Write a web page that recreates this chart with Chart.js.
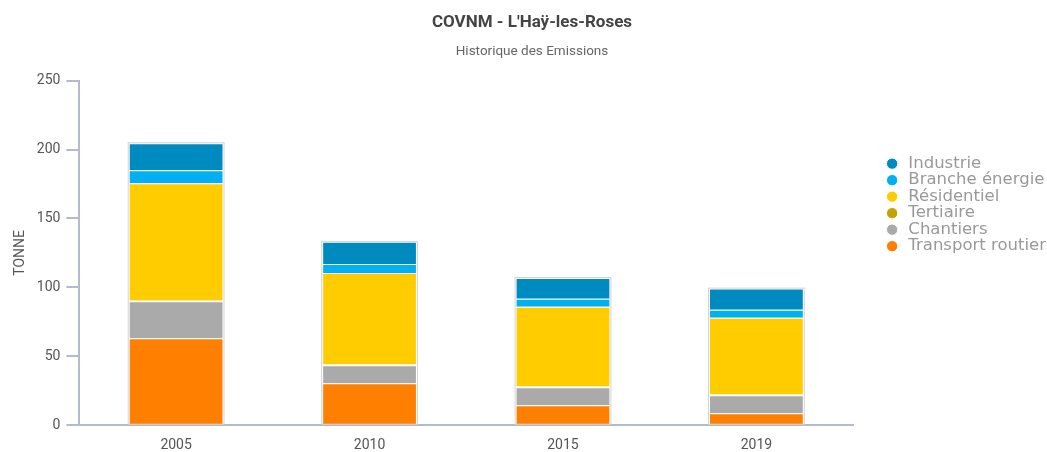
<!DOCTYPE html>
<html>
<head>
<meta charset="utf-8">
<script src="https://cdn.jsdelivr.net/npm/chart.js@4"></script>
<style>
  html, body { margin: 0; padding: 0; background: #fff; }
  #wrap { width: 1047px; height: 452px; }
</style>
</head>
<body>
<div id="wrap"><canvas id="emissionsChart"></canvas></div>
<script>
// Data
const years = ['2005', '2010', '2015', '2019'];
const transportRoutier = [63, 30.5, 14.5, 8.7];
const chantiers = [27, 13, 13, 13];
const tertiaire = [0.5, 0.5, 0.5, 0.5];
const residentiel = [85, 66.5, 58, 55.8];
const brancheEnergie = [9.5, 6.5, 5.8, 5.8];
const industrie = [19.5, 16, 15, 15.3];
const yTicks = [0, 50, 100, 150, 200, 250];

const axisColor = '#b4bacb';
const tickFont = "Roboto, sans-serif";

// light grey outline around each full stack
const stackOutline = {
  id: 'stackOutline',
  afterDatasetsDraw(chart) {
    const ctx = chart.ctx;
    const metas = chart.getSortedVisibleDatasetMetas();
    const count = chart.data.labels.length;
    ctx.save();
    ctx.strokeStyle = '#d4d4d4';
    ctx.lineWidth = 1;
    for (let i = 0; i < count; i++) {
      let top = Infinity, bottom = -Infinity, left, right;
      metas.forEach((m) => {
        const bar = m.data[i];
        if (!bar) return;
        const p = bar.getProps(['x', 'y', 'base', 'width'], true);
        top = Math.min(top, p.y, p.base);
        bottom = Math.max(bottom, p.y, p.base);
        left = p.x - p.width / 2;
        right = p.x + p.width / 2;
      });
      ctx.strokeRect(left - 0.5, top - 0.5, right - left + 1, bottom - top + 0.5);
    }
    ctx.restore();
  },
};

new Chart(document.getElementById('emissionsChart').getContext('2d'), {
  type: 'bar',
  data: {
    labels: years,
    datasets: [
      { label: 'Transport routier', data: transportRoutier, backgroundColor: '#ff7f00' },
      { label: 'Chantiers', data: chantiers, backgroundColor: '#aaaaaa' },
      { label: 'Tertiaire', data: tertiaire, backgroundColor: '#c4a300' },
      { label: 'Résidentiel', data: residentiel, backgroundColor: '#ffcc00' },
      { label: 'Branche énergie', data: brancheEnergie, backgroundColor: '#00b0f0' },
      { label: 'Industrie', data: industrie, backgroundColor: '#008bc0' },
    ].map((d) => Object.assign(d, {
      borderColor: '#ffffff',
      borderWidth: 1,
      barPercentage: 0.49,
      categoryPercentage: 1,
    })),
  },
  options: {
    responsive: true,
    maintainAspectRatio: false,
    animation: false,
    layout: { padding: { left: 8, right: -9, bottom: -14 } },
    scales: {
      x: {
        stacked: true,
        grid: { display: false, drawTicks: false, tickLength: 0 },
        border: { display: true, color: axisColor, width: 2 },
        ticks: {
          color: '#555',
          padding: 12,
          font: { family: tickFont, size: 14 },
        },
      },
      y: {
        stacked: true,
        min: 0,
        max: 250,
        afterBuildTicks: (axis) => {
          axis.ticks = yTicks.map((v) => ({ value: v }));
        },
        grid: {
          drawOnChartArea: false,
          drawTicks: true,
          tickLength: 13,
          color: axisColor,
          lineWidth: 2,
        },
        border: { display: true, color: axisColor, width: 2 },
        ticks: {
          color: '#555',
          padding: 6,
          font: { family: tickFont, size: 14 },
        },
        title: {
          display: true,
          text: 'TONNE',
          color: '#555',
          padding: { bottom: 2 },
          font: { family: tickFont, size: 14 },
        },
      },
      // empty spacer between the plot and the legend
      spacer: {
        position: 'right',
        display: true,
        grid: { display: false },
        border: { display: false },
        ticks: { display: false },
        afterFit: (axis) => { axis.width = 31; },
      },
    },
    plugins: {
      title: {
        display: true,
        text: 'COVNM - L\'Haÿ-les-Roses',
        color: '#444',
        padding: { top: 13, bottom: 10 },
        font: { family: "Roboto, sans-serif", size: 17, weight: 'bold' },
      },
      subtitle: {
        display: true,
        text: 'Historique des Emissions',
        color: '#666',
        padding: { bottom: 21 },
        font: { family: tickFont, size: 13.5 },
      },
      legend: {
        position: 'right',
        align: 'start',
        reverse: true,
        title: { display: true, text: '', padding: { top: 141 } },
        labels: {
          usePointStyle: true,
          pointStyle: 'circle',
          boxWidth: 16,
          boxHeight: 8,
          padding: 0,
          color: '#999',
          font: { family: "'DejaVu Sans', Verdana, sans-serif", size: 16.5, lineHeight: 1 },
        },
      },
      tooltip: { enabled: true },
    },
  },
  plugins: [stackOutline],
});
</script>
</body>
</html>
